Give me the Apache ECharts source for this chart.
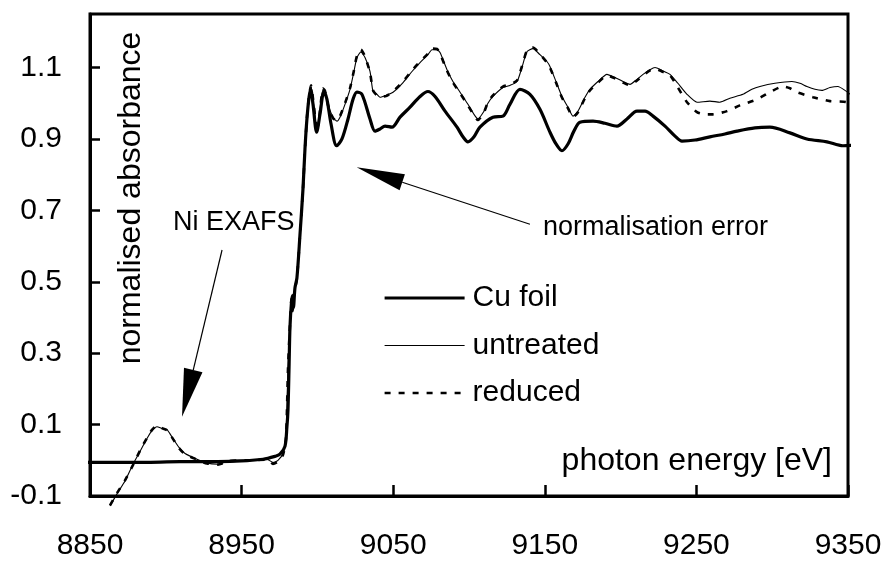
<!DOCTYPE html>
<html>
<head>
<meta charset="utf-8">
<script src="https://cdn.jsdelivr.net/npm/echarts@6/dist/echarts.min.js"></script>
<style>
  html, body { margin: 0; padding: 0; background: #fff; }
  #main { width: 885px; height: 561px; }
</style>
</head>
<body>
<div id="main"></div>
<script>
// Cu K-edge XANES/EXAFS: Cu foil reference and two catalyst samples
const xTicks = [8850, 8950, 9050, 9150, 9250, 9350];
const yTicks = [-0.1, 0.1, 0.3, 0.5, 0.7, 0.9, 1.1];
const seriesNames = ['Cu foil', 'untreated', 'reduced'];

const cuEnergy = [8844.7, 8876.4, 8909.4, 8942.3, 8964.1, 8972.0, 8975.3, 8978.6, 8979.9, 8980.6,
  8981.3, 8981.9, 8982.9, 8983.6, 8984.2, 8985.2, 8986.5, 8988.5, 8990.5, 8991.8,
  8993.1, 8994.5, 8995.6, 8997.1, 8999.5, 9001.7, 9004.3, 9006.3, 9009.0, 9012.7,
  9016.2, 9020.2, 9023.5, 9026.1, 9029.4, 9034.7, 9038.0, 9041.3, 9044.6, 9049.2,
  9054.5, 9061.1, 9067.7, 9072.9, 9077.6, 9084.2, 9092.1, 9096.0, 9099.3, 9103.3,
  9107.2, 9115.8, 9122.4, 9127.0, 9133.6, 9140.2, 9146.8, 9153.4, 9157.4, 9161.3,
  9165.3, 9169.2, 9173.2, 9181.8, 9189.7, 9197.6, 9204.2, 9210.8, 9216.1, 9221.4,
  9229.3, 9235.9, 9240.5, 9249.1, 9258.9, 9268.8, 9276.8, 9288.6, 9298.5, 9311.7,
  9322.9, 9336.1, 9346.7, 9355.9];
const cuAbs = [-0.006, -0.006, -0.004, -0.003, 0.003, 0.011, 0.017, 0.039, 0.094, 0.142,
  0.261, 0.372, 0.442, 0.461, 0.428, 0.483, 0.511, 0.631, 0.761, 0.872,
  0.956, 1.017, 1.039, 0.997, 0.919, 0.969, 1.033, 1.011, 0.942, 0.881,
  0.900, 0.956, 1.011, 1.031, 1.025, 0.956, 0.922, 0.928, 0.936, 0.933,
  0.961, 0.989, 1.019, 1.033, 1.019, 0.978, 0.933, 0.906, 0.892, 0.906,
  0.933, 0.961, 0.964, 0.997, 1.039, 1.025, 0.983, 0.919, 0.886, 0.867,
  0.886, 0.922, 0.947, 0.950, 0.944, 0.936, 0.956, 0.978, 0.978, 0.964,
  0.936, 0.908, 0.894, 0.897, 0.906, 0.914, 0.922, 0.931, 0.933, 0.917,
  0.900, 0.892, 0.881, 0.883];

const untreatedEnergy = [8863.2, 8867.8, 8873.1, 8878.4, 8883.0, 8887.6, 8890.9, 8894.2, 8897.5, 8900.8,
  8904.7, 8908.7, 8912.7, 8920.6, 8927.2, 8934.4, 8942.3, 8955.5, 8966.8, 8970.7,
  8974.0, 8977.3, 8979.3, 8980.6, 8981.9, 8982.9, 8983.6, 8984.6, 8986.5, 8988.5,
  8990.5, 8991.8, 8993.1, 8994.5, 8995.8, 8997.1, 8999.1, 9000.4, 9001.7, 9003.7,
  9005.0, 9007.0, 9010.3, 9012.9, 9014.9, 9018.2, 9021.5, 9024.1, 9026.1, 9028.7,
  9031.4, 9034.7, 9036.7, 9039.3, 9041.3, 9045.2, 9049.9, 9056.5, 9062.4, 9067.7,
  9072.9, 9075.6, 9078.9, 9080.9, 9085.5, 9089.4, 9094.1, 9099.3, 9103.3, 9105.9,
  9109.9, 9112.5, 9115.8, 9122.4, 9127.0, 9131.7, 9134.9, 9138.2, 9142.2, 9146.8,
  9151.4, 9153.4, 9157.4, 9161.3, 9165.3, 9168.6, 9171.9, 9176.5, 9179.8, 9185.1,
  9191.0, 9196.3, 9201.6, 9206.2, 9210.8, 9214.8, 9219.4, 9222.7, 9227.3, 9232.6,
  9237.8, 9243.8, 9250.4, 9258.9, 9265.5, 9272.1, 9280.7, 9286.6, 9291.9, 9301.8,
  9313.0, 9318.3, 9322.9, 9328.2, 9332.8, 9338.1, 9343.4, 9348.0, 9353.3, 9355.9];
const untreatedAbs = [-0.128, -0.094, -0.058, -0.011, 0.025, 0.061, 0.083, 0.094, 0.089, 0.086,
  0.061, 0.036, 0.019, 0.003, -0.008, -0.011, 0.000, 0.001, 0.003, -0.006,
  0.000, 0.019, 0.067, 0.261, 0.381, 0.456, 0.422, 0.469, 0.511, 0.631,
  0.761, 0.872, 0.961, 1.019, 1.047, 1.011, 0.942, 0.939, 0.983, 1.039,
  1.033, 0.997, 0.961, 0.950, 0.961, 0.997, 1.039, 1.089, 1.128, 1.144,
  1.128, 1.089, 1.033, 1.025, 1.017, 1.022, 1.031, 1.058, 1.089, 1.114,
  1.136, 1.150, 1.150, 1.142, 1.094, 1.061, 1.031, 0.997, 0.969, 0.956,
  0.978, 1.000, 1.019, 1.044, 1.050, 1.061, 1.100, 1.144, 1.153, 1.136,
  1.117, 1.103, 1.061, 1.019, 0.989, 0.964, 0.978, 1.017, 1.039, 1.061,
  1.081, 1.072, 1.061, 1.053, 1.067, 1.081, 1.094, 1.100, 1.092, 1.081,
  1.056, 1.025, 1.003, 1.006, 1.003, 1.014, 1.025, 1.039, 1.047, 1.056,
  1.061, 1.056, 1.047, 1.039, 1.036, 1.044, 1.047, 1.036, 1.019, 1.011];

const reducedEnergy = [8863.2, 8867.8, 8873.1, 8878.4, 8883.0, 8887.6, 8890.9, 8894.2, 8897.5, 8900.8,
  8904.7, 8908.7, 8912.7, 8920.6, 8927.2, 8934.4, 8942.3, 8955.5, 8966.8, 8970.7,
  8974.0, 8977.3, 8979.3, 8980.6, 8981.9, 8982.9, 8983.6, 8984.6, 8986.5, 8988.5,
  8990.5, 8991.8, 8993.1, 8994.5, 8995.8, 8997.1, 8999.1, 9000.4, 9001.7, 9003.7,
  9005.0, 9007.0, 9010.3, 9012.9, 9014.9, 9018.2, 9021.5, 9024.1, 9026.1, 9028.7,
  9031.4, 9034.7, 9036.7, 9039.3, 9041.3, 9045.2, 9049.9, 9056.5, 9062.4, 9067.7,
  9072.9, 9075.6, 9078.9, 9080.9, 9085.5, 9089.4, 9094.1, 9099.3, 9103.3, 9105.9,
  9109.9, 9112.5, 9115.8, 9122.4, 9127.0, 9131.7, 9134.9, 9138.2, 9142.2, 9146.8,
  9151.4, 9153.4, 9157.4, 9161.3, 9165.3, 9168.6, 9171.9, 9176.5, 9179.8, 9185.1,
  9191.0, 9196.3, 9201.6, 9206.2, 9210.8, 9214.8, 9219.4, 9222.7, 9227.3, 9232.6,
  9237.8, 9243.8, 9250.4, 9255.7, 9260.9, 9270.2, 9278.7, 9290.0, 9298.5, 9307.1,
  9311.7, 9316.3, 9326.9, 9338.1, 9349.3, 9355.9];
const reducedAbs = [-0.126, -0.092, -0.056, -0.013, 0.027, 0.063, 0.085, 0.097, 0.090, 0.084,
  0.060, 0.034, 0.017, 0.002, -0.009, -0.012, -0.002, 0.000, 0.002, -0.010,
  -0.004, 0.015, 0.062, 0.255, 0.378, 0.452, 0.418, 0.466, 0.509, 0.629,
  0.760, 0.870, 0.960, 1.021, 1.050, 1.013, 0.944, 0.937, 0.980, 1.041,
  1.035, 0.995, 0.958, 0.952, 0.964, 1.000, 1.042, 1.092, 1.133, 1.150,
  1.131, 1.086, 1.036, 1.022, 1.019, 1.020, 1.033, 1.061, 1.092, 1.117,
  1.139, 1.153, 1.152, 1.139, 1.091, 1.058, 1.028, 0.994, 0.966, 0.953,
  0.975, 1.003, 1.022, 1.047, 1.052, 1.064, 1.103, 1.147, 1.156, 1.138,
  1.114, 1.100, 1.058, 1.016, 0.986, 0.961, 0.975, 1.014, 1.036, 1.058,
  1.078, 1.070, 1.058, 1.050, 1.064, 1.078, 1.092, 1.097, 1.089, 1.078,
  1.044, 1.003, 0.975, 0.969, 0.969, 0.978, 0.994, 1.011, 1.031, 1.047,
  1.042, 1.031, 1.017, 1.006, 1.003, 0.983];

// annotation anchors in data coordinates: [energy, absorbance]
const niLabelAt = [8904.7, 0.665];
const niArrowFrom = [8937.1, 0.589];
const niArrowTo = [8910.7, 0.122];
const normLabelAt = [9148.8, 0.653];
const normArrowFrom = [9140.2, 0.661];
const normArrowTo = [9025.9, 0.821];

const FONT = '"Liberation Sans", Arial, Helvetica, sans-serif';

const lineStyles = {
  'Cu foil': { color: '#000', width: 3.2 },
  'untreated': { color: '#000', width: 1.1 },
  'reduced': { color: '#000', width: 2.6, type: [6, 8] }
};

function pairs(xs, ys) {
  return xs.map((x, i) => [x, ys[i]]);
}

const chart = echarts.init(document.getElementById('main'), null, { renderer: 'canvas' });

const option = {
  animation: false,
  backgroundColor: '#ffffff',
  grid: {
    left: 90, right: 37, top: 14, bottom: 60,
    show: true, borderColor: '#000', borderWidth: 3, backgroundColor: 'transparent'
  },
  legend: {
    data: seriesNames.map(n => ({
      name: n,
      lineStyle: { width: lineStyles[n].width, color: '#000', type: lineStyles[n].type || 'solid' },
      itemStyle: { opacity: 0 }
    })),
    orient: 'vertical',
    left: 383, top: 283,
    itemWidth: 80, itemHeight: 14, itemGap: 17.5,
    padding: 0,
    textStyle: { fontFamily: FONT, fontSize: 30, color: '#000', padding: [0, 0, 0, 3] },
    selectedMode: false
  },
  xAxis: {
    type: 'value',
    min: 8850, max: 9350,
    axisLine: { show: true, onZero: false, lineStyle: { color: '#000', width: 3 } },
    axisTick: { show: true, inside: true, length: 11, customValues: xTicks, lineStyle: { color: '#000', width: 2.5 } },
    axisLabel: { customValues: xTicks, margin: 35, fontFamily: FONT, fontSize: 30, color: '#000',
      formatter: v => String(v) },
    splitLine: { show: false }
  },
  yAxis: {
    type: 'value',
    min: -0.1, max: 1.25,
    axisLine: { show: true, onZero: false, lineStyle: { color: '#000', width: 3 } },
    axisTick: { show: true, inside: true, length: 10, customValues: yTicks, lineStyle: { color: '#000', width: 2.5 } },
    axisLabel: { customValues: yTicks, margin: 28, fontFamily: FONT, fontSize: 30, color: '#000',
      formatter: v => v.toFixed(1) },
    splitLine: { show: false }
  },
  series: [
    {
      name: 'untreated', type: 'line', data: pairs(untreatedEnergy, untreatedAbs),
      symbol: 'none', clip: false, smooth: 0.2, z: 2,
      itemStyle: { color: '#000' }, lineStyle: lineStyles['untreated']
    },
    {
      name: 'reduced', type: 'line', data: pairs(reducedEnergy, reducedAbs),
      symbol: 'none', clip: false, smooth: 0.2, z: 3,
      itemStyle: { color: '#000' }, lineStyle: lineStyles['reduced']
    },
    {
      name: 'Cu foil', type: 'line', data: pairs(cuEnergy, cuAbs),
      symbol: 'none', clip: false, smooth: 0.3, z: 4,
      itemStyle: { color: '#000' }, lineStyle: lineStyles['Cu foil']
    }
  ]
};

chart.setOption(option);

function toPx(p) {
  return chart.convertToPixel({ gridIndex: 0 }, p);
}

// straight shaft with a long filled triangular head
function arrow(from, to, headLen, headHalf) {
  const a = toPx(from), b = toPx(to);
  const dx = b[0] - a[0], dy = b[1] - a[1];
  const d = Math.hypot(dx, dy);
  const ux = dx / d, uy = dy / d;
  const bx = b[0] - ux * headLen, by = b[1] - uy * headLen;
  return [
    { type: 'line', silent: true, z: 10,
      shape: { x1: a[0], y1: a[1], x2: bx, y2: by },
      style: { stroke: '#000', lineWidth: 1.2 } },
    { type: 'polygon', silent: true, z: 10,
      shape: { points: [[b[0], b[1]], [bx - uy * headHalf, by + ux * headHalf], [bx + uy * headHalf, by - ux * headHalf]] },
      style: { fill: '#000' } }
  ];
}

function label(at, text, size) {
  const p = toPx(at);
  return { type: 'text', silent: true, z: 10, x: p[0], y: p[1],
    style: { text: text, fontFamily: FONT, fontSize: size, fill: '#000', align: 'left', verticalAlign: 'middle' } };
}

const graphics = [
  { type: 'text', silent: true, z: 10, x: 131, y: 198, rotation: Math.PI / 2,
    style: { text: 'normalised absorbance', fontFamily: FONT, fontSize: 32, fill: '#000', align: 'center', verticalAlign: 'middle' } },
  { type: 'text', silent: true, z: 10, x: 832, y: 461,
    style: { text: 'photon energy [eV]', fontFamily: FONT, fontSize: 32, fill: '#000', align: 'right', verticalAlign: 'middle' } },
  label(niLabelAt, 'Ni EXAFS', 27),
  label(normLabelAt, 'normalisation error', 27)
].concat(arrow(niArrowFrom, niArrowTo, 48, 9.5), arrow(normArrowFrom, normArrowTo, 48, 8.5));

chart.setOption({ graphic: graphics });
</script>
</body>
</html>
